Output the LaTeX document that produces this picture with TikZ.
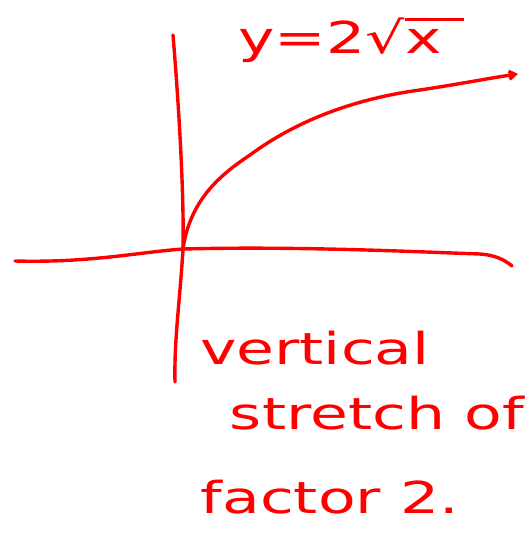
\documentclass[tikz,border=0pt]{standalone}
\usepackage{fontspec}
\setmainfont{DejaVu Sans}
\usetikzlibrary{arrows.meta, positioning}
\definecolor{inkRed}{HTML}{FF0000}

\begin{document}
\begin{tikzpicture}[
    x=1pt, y=-1pt,
    ink/.style={draw=inkRed, line width=3.4pt, line cap=round, line join=round},
    note/.style={text=inkRed, inner sep=0pt, xscale=1.4, transform shape,
                 font=\fontsize{44}{46}\selectfont},
]
\useasboundingbox (0,0) rectangle (529,534);

% -- axes --
\coordinate (origin) at (183,249);
\coordinate (xleft) at (15,261);
\coordinate (xright) at (512,266);
\coordinate (ytop) at (173,35);
\coordinate (ybot) at (175,382);
\draw[ink] (xleft) .. controls (90,263) and (140,252) .. (origin)
    .. controls (300,246) and (420,252) .. (480,254)
    .. controls (495,255) and (505,260) .. (xright);
\draw[ink] (ytop) .. controls (180,120) and (184,200) .. (origin)
    .. controls (180,300) and (174,340) .. (ybot);

% -- curve y = 2 sqrt x --
\coordinate (tip) at (518,74);
\draw[ink, -{Straight Barb[length=6pt,width=8pt]}] (origin)
    .. controls (190,200) and (220,175) .. (250,155)
    .. controls (300,118) and (360,98) .. (420,90)
    .. controls (460,84) and (490,78) .. (tip);

% -- labels --
\node[note] (eqn) at (340,40) {y=2√\smash{\rlap{\rule[0.74em]{0.95em}{0.06em}}}x};
\node[note] (line1) at (315,348) {vertical};
\node[note] (line2) at (377,413) {stretch of};
\node[note] (line3) at (330,497) {factor 2.};

\end{tikzpicture}
\end{document}
